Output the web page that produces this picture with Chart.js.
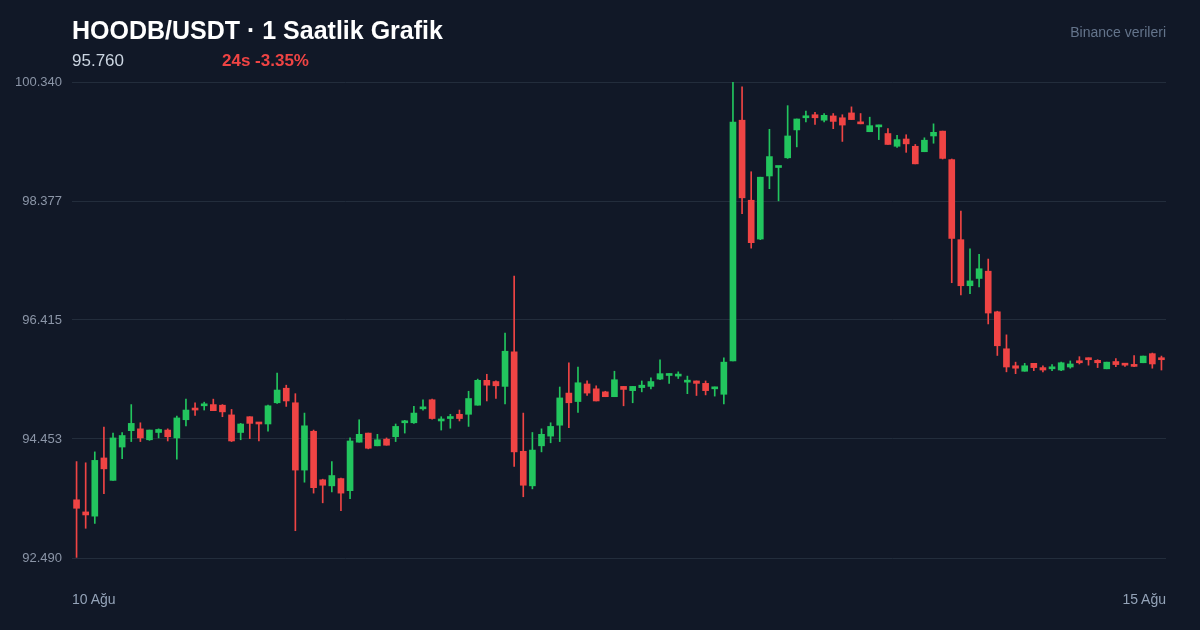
<!DOCTYPE html>
<html lang="tr">
<head>
<meta charset="utf-8">
<title>HOODB/USDT · 1 Saatlik Grafik</title>
<script src="https://cdn.jsdelivr.net/npm/chart.js@4.4.1/dist/chart.umd.min.js"></script>
<style>
  html, body { margin: 0; padding: 0; background: #111827; }
  body { width: 1200px; height: 630px; position: relative; overflow: hidden;
         font-family: "Liberation Sans", Arial, sans-serif; }
  #myChart { position: absolute; left: 0; top: 0; }
  .txt { position: absolute; line-height: 1; white-space: nowrap; }
  #title { left: 72px; top: 18px; font-size: 25px; font-weight: bold; color: #ffffff; }
  #price { left: 72px; top: 52px; font-size: 17px; color: #cbd5e1; }
  #change { left: 222px; top: 52px; font-size: 17px; font-weight: bold; color: #ef4444; }
  #source { right: 34px; top: 25px; font-size: 14px; color: #64748b; }
  .xlab { top: 592px; font-size: 14px; color: #94a3b8; }
</style>
</head>
<body>
<canvas id="myChart" width="1200" height="630"></canvas>
<div id="title" class="txt">HOODB/USDT · 1 Saatlik Grafik</div>
<div id="price" class="txt">95.760</div>
<div id="change" class="txt">24s -3.35%</div>
<div id="source" class="txt">Binance verileri</div>
<div id="xStart" class="txt xlab" style="left:72px"></div>
<div id="xEnd" class="txt xlab" style="right:34px"></div>
<script>
// Saatlik mumlar (10 Ağu - 15 Ağu)
const opens = [
  93.45, 93.25, 93.18, 94.14, 93.77, 94.32, 94.59, 94.62, 94.44, 94.56,
  94.60, 94.47, 94.77, 94.96, 95.00, 95.02, 95.01, 94.85, 94.56, 94.82,
  94.72, 94.70, 95.05, 95.29, 95.05, 93.94, 94.58, 93.78, 93.68, 93.80,
  93.60, 94.40, 94.55, 94.34, 94.45, 94.49, 94.72, 94.72, 94.95, 95.10,
  94.75, 94.79, 94.86, 94.86, 95.01, 95.42, 95.40, 95.32, 95.89, 94.25,
  93.68, 94.34, 94.50, 94.68, 95.21, 95.07, 95.36, 95.28, 95.23, 95.15,
  95.32, 95.25, 95.30, 95.32, 95.44, 95.50, 95.49, 95.39, 95.41, 95.37,
  95.28, 95.19, 95.74, 99.71, 98.39, 97.75, 98.79, 98.93, 99.09, 99.55,
  99.75, 99.80, 99.71, 99.78, 99.75, 99.83, 99.68, 99.52, 99.60, 99.49,
  99.28, 99.40, 99.28, 99.19, 99.45, 99.53, 99.06, 97.74, 96.98, 97.10,
  97.22, 96.55, 95.94, 95.66, 95.57, 95.70, 95.63, 95.61, 95.59, 95.64,
  95.74, 95.79, 95.75, 95.61, 95.73, 95.69, 95.68, 95.71, 95.86, 95.79
];
const highs = [
  94.08, 94.06, 94.24, 94.65, 94.55, 94.56, 95.02, 94.72, 94.60, 94.62,
  94.62, 94.83, 95.11, 95.05, 95.06, 95.11, 95.02, 94.94, 94.71, 94.82,
  94.72, 95.01, 95.54, 95.34, 95.20, 94.88, 94.60, 93.79, 94.08, 93.81,
  94.47, 94.77, 94.55, 94.53, 94.47, 94.70, 94.76, 94.99, 95.10, 95.11,
  94.82, 94.86, 94.93, 95.24, 95.44, 95.52, 95.41, 96.20, 97.14, 94.88,
  94.56, 94.62, 94.72, 95.31, 95.71, 95.64, 95.41, 95.33, 95.24, 95.57,
  95.32, 95.32, 95.41, 95.46, 95.76, 95.53, 95.56, 95.49, 95.41, 95.41,
  95.31, 95.79, 100.34, 100.26, 98.86, 98.77, 99.56, 98.95, 99.95, 99.73,
  99.86, 99.84, 99.82, 99.82, 99.80, 99.93, 99.82, 99.76, 99.63, 99.57,
  99.46, 99.47, 99.31, 99.42, 99.65, 99.53, 99.07, 98.21, 97.59, 97.50,
  97.42, 96.56, 96.17, 95.72, 95.70, 95.70, 95.66, 95.68, 95.72, 95.74,
  95.81, 95.79, 95.76, 95.72, 95.78, 95.70, 95.83, 95.82, 95.87, 95.82
];
const lows = [
  92.50, 92.98, 93.06, 93.55, 93.77, 94.13, 94.41, 94.41, 94.43, 94.47,
  94.42, 94.12, 94.67, 94.84, 94.93, 94.92, 94.82, 94.41, 94.44, 94.46,
  94.42, 94.58, 95.04, 94.99, 92.94, 93.74, 93.56, 93.40, 93.58, 93.27,
  93.47, 94.40, 94.29, 94.34, 94.35, 94.41, 94.55, 94.71, 94.93, 94.78,
  94.60, 94.63, 94.75, 94.66, 95.01, 95.08, 95.12, 95.03, 94.00, 93.50,
  93.63, 94.24, 94.39, 94.41, 94.64, 94.89, 95.17, 95.08, 95.15, 95.15,
  95.00, 95.05, 95.23, 95.28, 95.43, 95.37, 95.45, 95.20, 95.17, 95.18,
  95.16, 95.03, 95.74, 98.17, 97.60, 97.74, 98.58, 98.38, 99.08, 99.27,
  99.68, 99.64, 99.68, 99.57, 99.36, 99.72, 99.65, 99.52, 99.39, 99.31,
  99.26, 99.18, 98.99, 99.19, 99.33, 99.07, 97.03, 96.83, 96.85, 96.96,
  96.35, 95.83, 95.56, 95.53, 95.57, 95.58, 95.56, 95.58, 95.58, 95.62,
  95.69, 95.67, 95.63, 95.61, 95.645, 95.65, 95.645, 95.71, 95.62, 95.59
];
const closes = [
  93.31, 93.20, 94.10, 93.96, 94.47, 94.51, 94.71, 94.47, 94.60, 94.61,
  94.49, 94.80, 94.93, 94.93, 95.03, 94.92, 94.90, 94.42, 94.70, 94.71,
  94.70, 95.00, 95.26, 95.08, 93.94, 94.67, 93.65, 93.69, 93.85, 93.56,
  94.42, 94.53, 94.30, 94.44, 94.35, 94.66, 94.73, 94.88, 94.98, 94.79,
  94.78, 94.82, 94.79, 95.12, 95.42, 95.34, 95.33, 95.90, 94.24, 93.69,
  94.27, 94.53, 94.66, 95.13, 95.05, 95.38, 95.21, 95.08, 95.15, 95.43,
  95.27, 95.32, 95.34, 95.40, 95.53, 95.52, 95.51, 95.41, 95.37, 95.25,
  95.31, 95.72, 99.68, 98.43, 97.69, 98.77, 99.11, 98.95, 99.45, 99.73,
  99.78, 99.75, 99.79, 99.69, 99.63, 99.72, 99.65, 99.62, 99.63, 99.31,
  99.39, 99.32, 98.99, 99.38, 99.51, 99.08, 97.76, 96.98, 97.06, 97.26,
  96.53, 95.99, 95.64, 95.62, 95.66, 95.63, 95.59, 95.64, 95.71, 95.69,
  95.71, 95.76, 95.71, 95.72, 95.68, 95.67, 95.65, 95.82, 95.69, 95.76
];

// Eksen etiketleri
const yTicks = [92.490, 94.453, 96.415, 98.377, 100.340];
const dateLabels = ['10 Ağu', '15 Ağu'];
const categories = opens.map((_, i) => i); // her mum bir saat

const UP = '#22c55e';
const DOWN = '#ef4444';
const GRID = '#232d3c';

document.getElementById('xStart').textContent = dateLabels[0];
document.getElementById('xEnd').textContent = dateLabels[dateLabels.length - 1];

const bodyData = opens.map((o, i) => [o, closes[i]]);
const wickData = lows.map((l, i) => [l, highs[i]]);
const candleColor = (c) => closes[c.dataIndex] >= opens[c.dataIndex] ? UP : DOWN;

const ctx = document.getElementById('myChart').getContext('2d');
const myChart = new Chart(ctx, {
    type: 'bar',
    data: {
        labels: categories,
        datasets: [
            {
                label: 'Gövde',
                data: bodyData,
                backgroundColor: candleColor,
                barThickness: 6,
                minBarLength: 2,
                grouped: false,
                order: 0
            },
            {
                label: 'Fitil',
                data: wickData,
                backgroundColor: candleColor,
                barThickness: 1,
                grouped: false,
                order: 1
            }
        ]
    },
    options: {
        responsive: false,
        animation: false,
        layout: { padding: { left: 0, right: 34, top: 82, bottom: 72 } },
        plugins: {
            legend: { display: false },
            tooltip: { enabled: false }
        },
        scales: {
            x: {
                display: false,
                offset: true,
                grid: { display: false }
            },
            y: {
                min: yTicks[0],
                max: yTicks[yTicks.length - 1],
                afterFit: (s) => { s.width = 72; },
                afterBuildTicks: (s) => { s.ticks = yTicks.map(v => ({ value: v })); },
                border: { display: false },
                grid: { color: GRID, lineWidth: 1, drawTicks: false },
                ticks: {
                    padding: 10,
                    color: '#8b95a7',
                    font: { size: 13, family: '"Liberation Sans", Arial, sans-serif' },
                    callback: (v) => Number(v).toFixed(3)
                }
            }
        }
    }
});
</script>
</body>
</html>
